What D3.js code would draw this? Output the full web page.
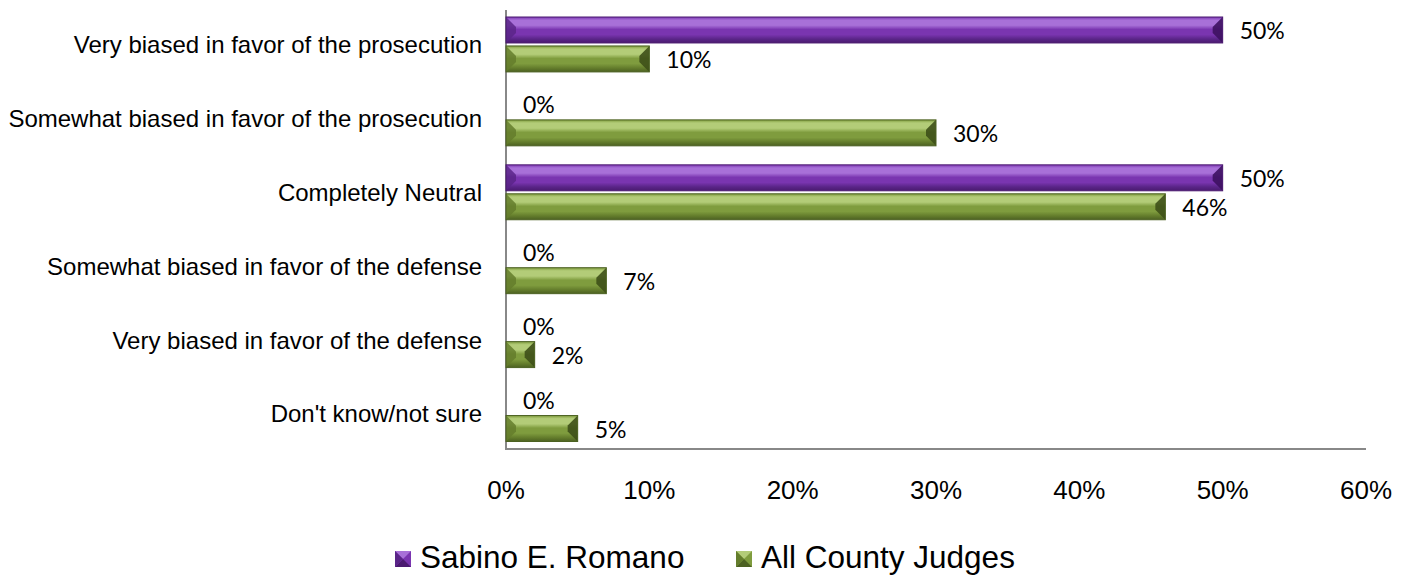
<!DOCTYPE html>
<html><head><meta charset="utf-8">
<script src="https://cdn.jsdelivr.net/npm/d3@7"></script>
<style>body{margin:0;background:#fff;}svg{display:block;}</style>
</head><body>
<svg id="c" width="1416" height="575"></svg>
<script>
const categories = ["Very biased in favor of the prosecution","Somewhat biased in favor of the prosecution","Completely Neutral","Somewhat biased in favor of the defense","Very biased in favor of the defense","Don't know/not sure"];
const seriesNames = ["Sabino E. Romano","All County Judges"];
const romano = [50,0,50,0,0,0];
const allJudges = [10,30,46,7,2,5];
const xTicks = [0,10,20,30,40,50,60];
const seriesColors = [
  {base:"#7a35b0", light:"#a870d8", dark:"#4b1a70", side:"#5a2588", side2:"#3d1160"},
  {base:"#7f9c3e", light:"#b3cc78", dark:"#4c6122", side:"#647d2c", side2:"#3e5018"}
];

const svg = d3.select("#c");
const x = d3.scaleLinear().domain([0,60]).range([506,1366]);
const y0 = d3.scaleBand().domain(categories).range([7.5,451]).paddingInner(0).paddingOuter(0);
const y1 = d3.scaleBand().domain([0,1]).range([9.5,y0.bandwidth()-9.5]).paddingInner(3/29).paddingOuter(0);

const defs = svg.append("defs");
seriesColors.forEach((c,i)=>{
  const g = defs.append("linearGradient").attr("id","g"+i).attr("x1",0).attr("y1",0).attr("x2",0).attr("y2",1);
  [[0,c.base],[0.12,c.light],[0.32,c.light],[0.48,c.base],[0.68,c.base],[0.85,c.side],[1,c.dark]].forEach(s=>g.append("stop").attr("offset",s[0]).attr("stop-color",s[1]));
});

// axes lines
svg.append("line").attr("x1",506).attr("x2",506).attr("y1",10).attr("y2",449).attr("stroke","#888").attr("stroke-width",2);
svg.append("line").attr("x1",505).attr("x2",1366).attr("y1",449).attr("y2",449).attr("stroke","#888").attr("stroke-width",2);

const data = [romano, allJudges];
categories.forEach((cat,ci)=>{
  data.forEach((vals,si)=>{
    const v = vals[ci];
    const c = seriesColors[si];
    const yT = y0(cat)+y1(si), h = y1.bandwidth();
    const x0 = x(0), xe = x(v);
    if (v>0){
      const w = xe-x0, b = Math.min(10, w/2, h/2);
      const gr = svg.append("g");
      gr.append("rect").attr("x",x0).attr("y",yT).attr("width",w).attr("height",h).attr("fill",`url(#g${si})`);
      gr.append("polygon").attr("points",[[x0,yT],[x0+b,yT+b],[x0+b,yT+h-b],[x0,yT+h]].join(" ")).attr("fill",c.side).attr("opacity",0.85);
      gr.append("polygon").attr("points",[[xe,yT],[xe-b,yT+b],[xe-b,yT+h-b],[xe,yT+h]].join(" ")).attr("fill",c.side2).attr("opacity",0.9);
      gr.append("rect").attr("x",x0).attr("y",yT).attr("width",w).attr("height",h).attr("fill","none").attr("stroke",c.dark).attr("stroke-width",1);
    }
    svg.append("text").attr("x",xe+17).attr("y",yT+h/2+1).attr("dy","0.36em")
      .attr("font-family","Lato,'Open Sans',sans-serif").attr("font-size",23).attr("fill","#000")
      .text(v+"%");
  });
  svg.append("text").attr("x",482).attr("y",y0(cat)+y0.bandwidth()/2).attr("dy","0.35em").attr("text-anchor","end")
    .attr("font-family","'Liberation Sans',Arial,sans-serif").attr("font-size",24).attr("fill","#000").text(cat);
});

xTicks.forEach(t=>{
  svg.append("text").attr("x",x(t)).attr("y",490).attr("dy","0.35em").attr("text-anchor","middle")
    .attr("font-family","'Liberation Sans',Arial,sans-serif").attr("font-size",26).attr("fill","#000").text(t+"%");
});

// legend
const legX = [395,736];
seriesNames.forEach((n,i)=>{
  const c = seriesColors[i];
  const lx = legX[i], ly = 551, s = 16;
  svg.append("rect").attr("x",lx).attr("y",ly).attr("width",s).attr("height",s).attr("fill",c.base);
  svg.append("polygon").attr("points",[[lx,ly],[lx+s,ly],[lx+s/2,ly+s/2]].join(" ")).attr("fill",c.light);
  svg.append("polygon").attr("points",[[lx,ly+s],[lx+s,ly+s],[lx+s/2,ly+s/2]].join(" ")).attr("fill",c.dark);
  svg.append("polygon").attr("points",[[lx,ly],[lx,ly+s],[lx+s/2,ly+s/2]].join(" ")).attr("fill",c.side);
  svg.append("text").attr("x",lx+s+9).attr("y",568)
    .attr("font-family","'Liberation Sans',Arial,sans-serif").attr("font-size",31.5).attr("fill","#000").text(n);
});
</script>
</body></html>
